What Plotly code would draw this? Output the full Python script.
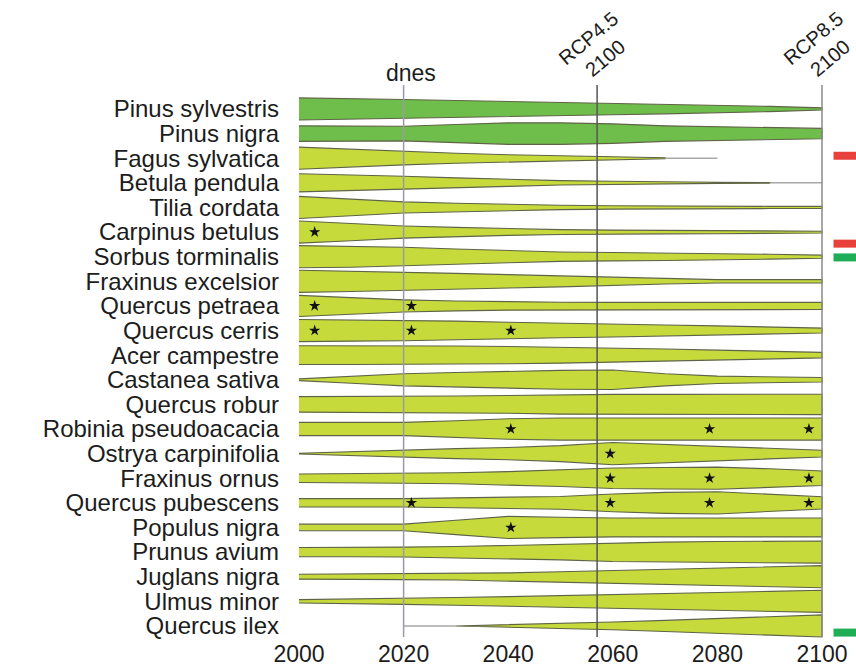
import plotly.graph_objects as go

# Species, top to bottom
species = [
    "Pinus sylvestris", "Pinus nigra", "Fagus sylvatica", "Betula pendula",
    "Tilia cordata", "Carpinus betulus", "Sorbus torminalis", "Fraxinus excelsior",
    "Quercus petraea", "Quercus cerris", "Acer campestre", "Castanea sativa",
    "Quercus robur", "Robinia pseudoacacia", "Ostrya carpinifolia", "Fraxinus ornus",
    "Quercus pubescens", "Populus nigra", "Prunus avium", "Juglans nigra",
    "Ulmus minor", "Quercus ilex",
]

# Relative suitable-area width of each species every 10 years (None = absent)
years = [2000, 2010, 2020, 2030, 2040, 2050, 2060, 2070, 2080, 2090, 2100]
pinus_sylvestris = [1.0, 0.95, 0.85, 0.76, 0.68, 0.6, 0.52, 0.44, 0.36, 0.24, 0.1]
pinus_nigra = [0.7, 0.68, 0.66, 0.82, 0.97, 0.97, 0.88, 0.7, 0.62, 0.55, 0.47]
fagus_sylvatica = [1.0, 0.8, 0.6, 0.45, 0.32, 0.22, 0.15, 0.05, None, None, None]
betula_pendula = [0.82, 0.72, 0.6, 0.45, 0.32, 0.2, 0.14, 0.08, 0.05, 0.03, None]
tilia_cordata = [1.0, 0.75, 0.5, 0.38, 0.28, 0.2, 0.15, 0.12, 0.1, 0.1, 0.1]
carpinus_betulus = [1.0, 0.78, 0.55, 0.42, 0.3, 0.22, 0.18, 0.16, 0.15, 0.13, 0.08]
sorbus_torminalis = [1.0, 0.95, 0.85, 0.7, 0.55, 0.42, 0.38, 0.34, 0.3, 0.22, 0.14]
fraxinus_excelsior = [1.0, 0.92, 0.85, 0.72, 0.6, 0.5, 0.4, 0.25, 0.15, 0.15, 0.15]
quercus_petraea = [0.95, 0.75, 0.55, 0.45, 0.38, 0.33, 0.32, 0.32, 0.32, 0.32, 0.32]
quercus_cerris = [1.0, 0.96, 0.92, 0.85, 0.75, 0.65, 0.58, 0.5, 0.42, 0.32, 0.22]
acer_campestre = [0.85, 0.85, 0.85, 0.82, 0.78, 0.72, 0.65, 0.55, 0.45, 0.35, 0.25]
castanea_sativa = [0.08, 0.32, 0.55, 0.65, 0.75, 0.85, 0.88, 0.55, 0.33, 0.25, 0.2]
quercus_robur = [0.7, 0.7, 0.72, 0.76, 0.8, 0.88, 0.9, 0.9, 0.9, 0.92, 0.92]
robinia_pseudoacacia = [0.6, 0.6, 0.6, 0.75, 0.92, 1.0, 1.0, 1.0, 1.0, 1.0, 1.0]
ostrya_carpinifolia = [0.03, 0.18, 0.33, 0.45, 0.55, 0.72, 1.0, 0.82, 0.65, 0.48, 0.3]
fraxinus_ornus = [0.38, 0.42, 0.45, 0.5, 0.6, 0.75, 0.92, 0.97, 1.0, 0.85, 0.65]
quercus_pubescens = [0.38, 0.38, 0.38, 0.45, 0.5, 0.58, 0.8, 0.95, 1.0, 0.8, 0.55]
populus_nigra = [0.3, 0.3, 0.3, 0.65, 1.0, 0.92, 0.85, 0.85, 0.85, 0.85, 0.85]
prunus_avium = [0.42, 0.42, 0.45, 0.5, 0.6, 0.7, 0.85, 0.9, 0.95, 0.98, 1.0]
juglans_nigra = [0.22, 0.24, 0.26, 0.3, 0.35, 0.45, 0.55, 0.68, 0.8, 0.9, 1.0]
ulmus_minor = [0.15, 0.2, 0.28, 0.35, 0.42, 0.5, 0.6, 0.7, 0.8, 0.9, 1.0]
quercus_ilex = [None, None, None, 0.0, 0.1, 0.25, 0.35, 0.5, 0.65, 0.82, 1.0]

widths = [
    pinus_sylvestris, pinus_nigra, fagus_sylvatica, betula_pendula, tilia_cordata,
    carpinus_betulus, sorbus_torminalis, fraxinus_excelsior, quercus_petraea,
    quercus_cerris, acer_campestre, castanea_sativa, quercus_robur,
    robinia_pseudoacacia, ostrya_carpinifolia, fraxinus_ornus, quercus_pubescens,
    populus_nigra, prunus_avium, juglans_nigra, ulmus_minor, quercus_ilex,
]

conifers = ["Pinus sylvestris", "Pinus nigra"]

# Thin residual presence lines (species, from, to)
tails = [("Fagus sylvatica", 2070, 2080), ("Betula pendula", 2090, 2100),
         ("Quercus ilex", 2020, 2030)]

# Periods at which a species reaches significant suitability (stars)
period_years = [2003, 2021.5, 2040.5, 2059.5, 2078.5, 2097.5]
star_periods = {
    "Carpinus betulus": [0],
    "Quercus petraea": [0, 1],
    "Quercus cerris": [0, 1, 2],
    "Robinia pseudoacacia": [2, 4, 5],
    "Ostrya carpinifolia": [3],
    "Fraxinus ornus": [3, 4, 5],
    "Quercus pubescens": [1, 3, 4, 5],
    "Populus nigra": [2],
}

# Reference time lines
timeline_years = [2020, 2057, 2100]
timeline_labels = ["dnes", "RCP4.5<br>2100", "RCP8.5<br>2100"]
timeline_colors = ["#9a9aa6", "#555555", "#8a8a8a"]

# Side indicators: (species, colour, vertical offset in rows)
indicators = [("Fagus sylvatica", "#e8413c", -0.1), ("Carpinus betulus", "#e8413c", 0.47),
              ("Sorbus torminalis", "#1fae55", 0.03), ("Quercus ilex", "#1fae55", 0.27)]

x_ticks = [2000, 2020, 2040, 2060, 2080, 2100]

HALF = 0.45  # max half-height of a row shape, in row units
FILL_CONIFER = "#6fbe4b"
FILL_BROADLEAF = "#c6da3c"
EDGE = "#5f6447"
TEXT = "#1c1c1c"
FONT = "Liberation Sans, Arial"

fig = go.Figure()

for i, (name, w) in enumerate(zip(species, widths)):
    xs = [y for y, v in zip(years, w) if v is not None]
    ws = [v for v in w if v is not None]
    top = [i - v * HALF for v in ws]
    bot = [i + v * HALF for v in ws]
    fig.add_trace(go.Scatter(
        x=xs + xs[::-1], y=top + bot[::-1], mode="lines", fill="toself",
        fillcolor=FILL_CONIFER if name in conifers else FILL_BROADLEAF,
        line=dict(color=EDGE, width=1.1), hoverinfo="skip", showlegend=False))

for name, x0, x1 in tails:
    i = species.index(name)
    fig.add_trace(go.Scatter(x=[x0, x1], y=[i, i], mode="lines",
                             line=dict(color="#a8a8a8", width=1.5),
                             hoverinfo="skip", showlegend=False))

sx, sy = [], []
for name, idx in star_periods.items():
    for k in idx:
        sx.append(period_years[k])
        sy.append(species.index(name))
fig.add_trace(go.Scatter(x=sx, y=sy, mode="markers",
                         marker=dict(symbol="star", size=8.5, color="#111111"),
                         hoverinfo="skip", showlegend=False))

for name, col, off in indicators:
    i = species.index(name) + off
    fig.add_trace(go.Scatter(x=[2102.2, 2108], y=[i, i], mode="lines",
                             line=dict(color=col, width=8),
                             hoverinfo="skip", showlegend=False))

for xv, col in zip(timeline_years, timeline_colors):
    fig.add_shape(type="line", xref="x", yref="y", x0=xv, x1=xv, y0=-0.97, y1=21.45,
                  line=dict(color=col, width=1.5), layer="above")

fig.add_annotation(x=timeline_years[0], y=0.9775, xref="x", yref="paper",
                   xshift=7, yanchor="middle",
                   text=timeline_labels[0], showarrow=False,
                   font=dict(family=FONT, size=23, color=TEXT))
for xv, lab in zip(timeline_years[1:], timeline_labels[1:]):
    fig.add_annotation(x=xv, y=1.02, xref="x", yref="paper", text=lab,
                       showarrow=False, textangle=-40, yanchor="middle",
                       xanchor="center",
                       font=dict(family=FONT, size=20, color=TEXT))

fig.update_layout(
    width=856, height=668,
    margin=dict(l=290, r=0, t=60, b=30),
    paper_bgcolor="white", plot_bgcolor="white",
    font=dict(family=FONT, color=TEXT),
    xaxis=dict(range=[1998.28, 2106.5], tickvals=x_ticks, showgrid=False,
               zeroline=False, showline=False, ticks="",
               tickfont=dict(size=23, color=TEXT)),
    yaxis=dict(range=[21.49, -1.99], tickvals=list(range(len(species))),
               ticktext=species, showgrid=False, zeroline=False, showline=False,
               ticks="", ticklabelstandoff=10,
               tickfont=dict(size=24, color=TEXT)),
)

fig.write_html("out.html")
